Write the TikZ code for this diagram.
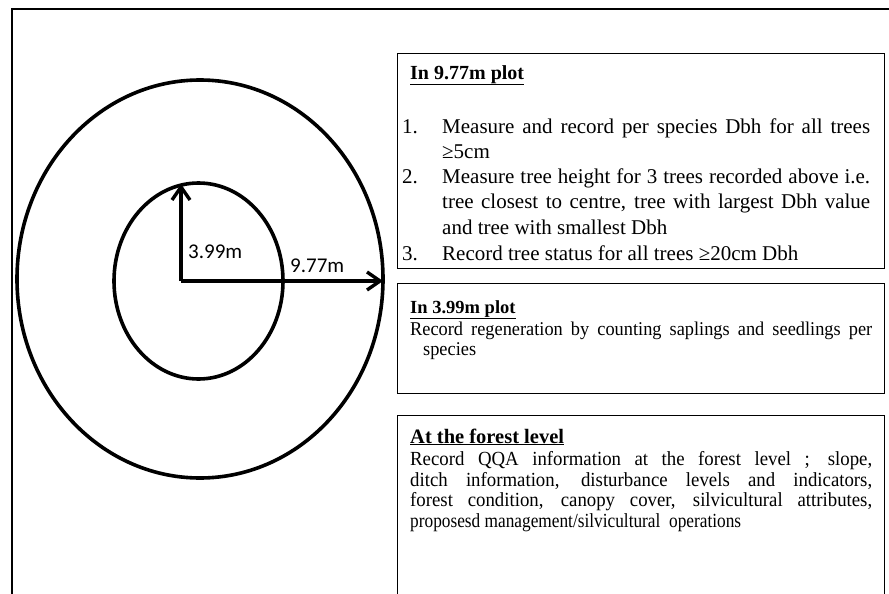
\documentclass[tikz,border=0pt]{standalone}
\usepackage{fontspec}
\setmainfont{Liberation Serif}
\newfontfamily\carlito{Carlito}
\newfontfamily\semiserif{Liberation Serif}[FakeStretch=0.94]
\usetikzlibrary{arrows.meta}
\tikzset{
  frameline/.style={line width=2.6pt, line cap=rect},
  ring/.style={line width=3.6pt},
  radius arrow/.style={line width=3.4pt, -{Straight Barb[length=13pt,width=18pt]}},
  textbox/.style={draw, line width=0.9pt, anchor=north west, inner sep=0pt},
  lbl/.style={anchor=base west, inner sep=0pt, font=\carlito\fontsize{21}{25}\selectfont},
  ta/.style={anchor=base west, inner sep=0pt, font=\fontsize{21}{25}\selectfont},
  tb/.style={anchor=base west, inner sep=0pt, font=\semiserif\fontsize{19.5}{22}\selectfont},
  tc/.style={anchor=base west, inner sep=0pt, font=\semiserif\fontsize{20}{22}\selectfont},
  hd/.style={anchor=base west, inner sep=0pt, font=\bfseries\fontsize{#1}{24}\selectfont},
}
\begin{document}
\begin{tikzpicture}[x=1pt,y=-1pt]
\useasboundingbox (0,0) rectangle (889,594);
\fill[white] (0,0) rectangle (889,594);
% outer frame
\draw[frameline] (895,9) -- (12,9) -- (12,600);
% plot rings
\draw[ring] (200,279) ellipse [x radius=183, y radius=199];
\draw[ring] (198.5,281) ellipse [x radius=84.5, y radius=98];
% radii
\coordinate (centre) at (181,281);
\coordinate (innertop) at (181,184);
\coordinate (outerright) at (383,281);
\draw[radius arrow] (centre) -- (innertop);
\draw[radius arrow] (centre) -- (outerright);
\node[lbl] (r399) at (188,258) {3.99m};
\node[lbl] (r977) at (290,272) {9.77m};
% boxes
\node[textbox, minimum width=487pt, minimum height=215pt] (box1) at (397,53) {};
\node[textbox, minimum width=487pt, minimum height=110pt] (box2) at (397,283) {};
\node[textbox, minimum width=487pt, minimum height=205pt] (box3) at (397,415) {};
% box 1 text
\node[hd=20] (b1h) at (410,79) {\underline{In 9.77m plot}};
\node[ta] (b1n1) at (402,133) {1.};
\node[ta] (b1l1) at (442,133) {\makebox[428pt][s]{Measure and record per species Dbh for all trees}};
\node[ta] (b1l2) at (442,158) {≥5cm};
\node[ta] (b1n2) at (402,183) {2.};
\node[ta] (b1l3) at (442,183) {\makebox[428pt][s]{Measure tree height for 3 trees recorded above i.e.}};
\node[ta] (b1l4) at (442,208.5) {\makebox[428pt][s]{tree closest to centre, tree with largest Dbh value}};
\node[ta] (b1l5) at (442,234) {and tree with smallest Dbh};
\node[ta] (b1n3) at (402,260) {3.};
\node[ta] (b1l6) at (442,260) {Record tree status for all trees ≥20cm Dbh};
% box 2 text
\node[hd=18.5] (b2h) at (410,313) {\underline{In 3.99m plot}};
\node[tb] (b2l1) at (410,335) {\makebox[462pt][s]{Record regeneration by counting saplings and seedlings per}};
\node[tb] (b2l2) at (423,355) {species};
% box 3 text
\node[hd=20.5] (b3h) at (410,443) {\underline{At the forest level}};
\node[tc] (b3l1) at (410,465) {\makebox[462pt][s]{Record QQA information at the forest level ; slope,}};
\node[tc] (b3l2) at (410,486) {\makebox[462pt][s]{ditch information, disturbance levels and indicators,}};
\node[tc] (b3l3) at (410,506.5) {\makebox[462pt][s]{forest condition, canopy cover, silvicultural attributes,}};
\node[tc] (b3l4) at (410,527) {\scalebox{0.92}[1]{proposesd management/silvicultural\ \ operations}};
\end{tikzpicture}
\end{document}
